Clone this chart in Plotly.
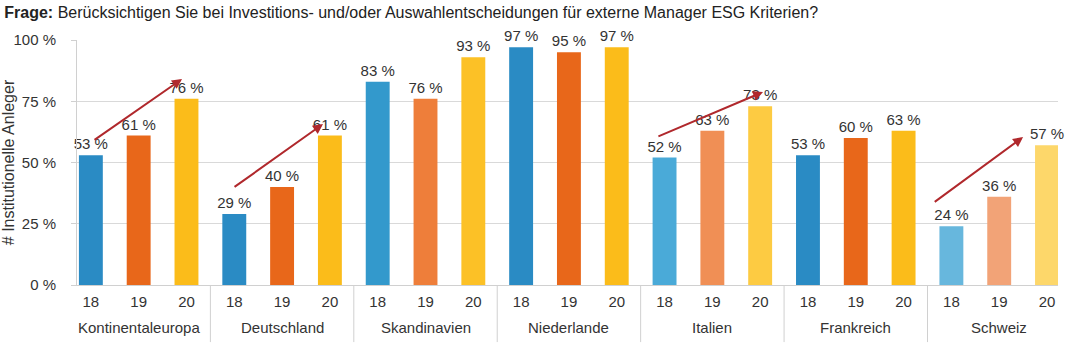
import plotly.graph_objects as go

# ---- data ----
regions = ["Kontinentaleuropa", "Deutschland", "Skandinavien", "Niederlande",
           "Italien", "Frankreich", "Schweiz"]
years = ["18", "19", "20"]
values = {
    "Kontinentaleuropa": [53, 61, 76],
    "Deutschland": [29, 40, 61],
    "Skandinavien": [83, 76, 93],
    "Niederlande": [97, 95, 97],
    "Italien": [52, 63, 73],
    "Frankreich": [53, 60, 63],
    "Schweiz": [24, 36, 57],
}
y_ticks = [0, 25, 50, 75, 100]
y_tick_labels = ["0 %", "25 %", "50 %", "75 %", "100 %"]

# colour shades per region (18, 19, 20)
palette = {
    "Kontinentaleuropa": ["#2A8BC4", "#E8671A", "#FBBC1A"],
    "Deutschland": ["#2A8BC4", "#E8671A", "#FBBC1A"],
    "Skandinavien": ["#3399CC", "#EE7E3A", "#FCC126"],
    "Niederlande": ["#2A8BC4", "#E8671A", "#FBBC1A"],
    "Italien": ["#4AAAD8", "#F08F55", "#FDCB42"],
    "Frankreich": ["#2A8BC4", "#E8671A", "#FBBC1A"],
    "Schweiz": ["#67B7DD", "#F2A377", "#FDD76A"],
}

# trend arrows (start index, start value, end index, end value)
arrow_x0 = [0.045, 2.974, 11.84, 17.62]
arrow_y0 = [58.8, 39.6, 60.4, 33.5]
arrow_x1 = [1.907, 4.856, 14.06, 19.50]
arrow_y1 = [84.1, 65.7, 78.8, 60.4]

# ---- build ----
keys, vals, cols, txt, ticktext = [], [], [], [], []
for r in regions:
    for i, yv in enumerate(years):
        keys.append(f"{r}|{yv}")
        ticktext.append(yv)
        vals.append(values[r][i])
        cols.append(palette[r][i])
        txt.append(f"{values[r][i]} %")

FONT = "Liberation Sans, Arial, sans-serif"
TXT = "#333333"
fig = go.Figure()
fig.add_trace(go.Bar(
    x=keys, y=vals, marker=dict(color=cols, line=dict(width=0)),
    width=0.5, text=txt, textposition="outside", cliponaxis=False,
    constraintext="none",
    textfont=dict(family=FONT, size=15, color=TXT),
    hoverinfo="skip",
))

for x0, y0, x1, y1 in zip(arrow_x0, arrow_y0, arrow_x1, arrow_y1):
    fig.add_annotation(
        x=x1, y=y1, ax=x0, ay=y0, xref="x", yref="y", axref="x", ayref="y",
        showarrow=True, arrowhead=2, arrowsize=1, arrowwidth=2,
        arrowcolor="#B0282C", text="", standoff=0, startstandoff=0,
    )

n_per = len(years)
for g, r in enumerate(regions):
    fig.add_annotation(
        x=keys[g * n_per + 1], y=-0.1755, xref="x", yref="paper",
        text=r, showarrow=False, yanchor="middle",
        font=dict(family=FONT, size=15, color=TXT),
    )
    if g > 0:
        fig.add_shape(type="line", xref="x", yref="paper",
                      x0=g * n_per - 0.5, x1=g * n_per - 0.5, y0=0, y1=-0.233,
                      line=dict(color="#D0D0D0", width=1))

fig.update_layout(
    width=1075, height=345,
    margin=dict(l=77, r=17, t=40, b=60),
    plot_bgcolor="white", paper_bgcolor="white",
    showlegend=False,
    font=dict(family=FONT, size=15, color=TXT),
    title=dict(
        text="<b>Frage:</b> Berücksichtigen Sie bei Investitions- und/oder Auswahlentscheidungen für externe Manager ESG Kriterien?",
        x=0.004, xanchor="left", y=1 - 12 / 345, yanchor="middle",
        font=dict(family=FONT, size=16, color="#222222"),
    ),
)
fig.update_yaxes(
    range=[0, 100], tickvals=y_ticks, ticktext=y_tick_labels,
    showgrid=True, gridcolor="#D9D9D9", gridwidth=1,
    showline=True, linecolor="#D0D0D0", linewidth=1,
    ticks="outside", ticklen=5, tickcolor="#D0D0D0",
    ticklabelstandoff=12, automargin=False,
    tickfont=dict(family=FONT, size=15, color=TXT),
    title=dict(text="# Institutionelle Anleger", font=dict(size=16, family=FONT, color=TXT), standoff=2),
    zeroline=False,
)
fig.update_xaxes(
    type="category", categoryorder="array", categoryarray=keys,
    tickvals=keys, ticktext=ticktext, range=[-0.29, 20.23],
    showline=True, linecolor="#D0D0D0", linewidth=1,
    ticks="", ticklabelstandoff=3, automargin=False,
    tickfont=dict(size=15, family=FONT, color=TXT),
)

fig.write_html("out.html")
